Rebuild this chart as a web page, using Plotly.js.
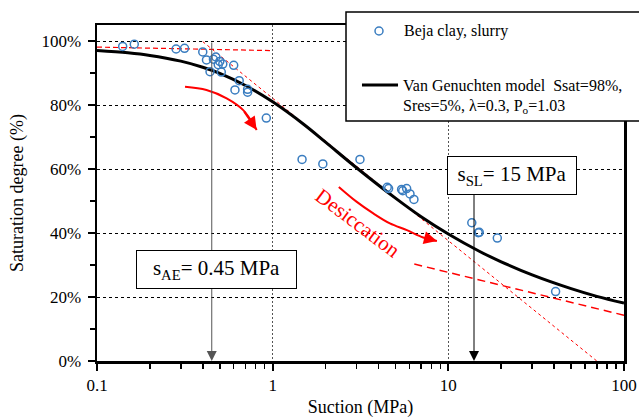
<!DOCTYPE html>
<html>
<head>
<meta charset="utf-8">
<script src="https://cdn.plot.ly/plotly-3.0.1.min.js"></script>
<style>html,body{margin:0;padding:0;background:#fff;}#chart{width:639px;height:418px;}</style>
</head>
<body>
<div id="chart"></div>
<script>
// Measured data: Beja clay, slurry
const suction = [0.14, 0.163, 0.282, 0.315, 0.40, 0.42, 0.46, 0.475, 0.49, 0.50, 0.52, 0.44, 0.51, 0.60, 0.645, 0.61, 0.72, 0.72, 0.92, 1.47, 1.93, 3.14, 4.49, 4.57, 5.42, 5.5, 5.79, 6.05, 6.37, 13.6, 14.8, 15.0, 19.0, 40.8];
const saturation = [98.3, 99.0, 97.5, 97.7, 96.6, 94.1, 94.3, 95.0, 92.6, 93.6, 92.8, 90.4, 90.3, 92.4, 87.6, 84.7, 84.9, 84.0, 75.9, 63.0, 61.6, 63.0, 54.3, 53.9, 53.6, 53.2, 53.9, 52.2, 50.5, 43.2, 40.1, 40.2, 38.4, 21.7];

// Van Genuchten model curve
const modelSuction = [0.1, 0.15, 0.2, 0.3, 0.4, 0.5, 0.7, 1, 1.5, 2, 3, 5, 7, 10, 15, 20, 30, 50, 70, 100];
const modelSat = [97.0, 96.3, 95.5, 93.7, 91.8, 89.9, 86.1, 81.0, 74.0, 68.4, 60.4, 50.9, 45.1, 39.7, 34.3, 31.0, 26.9, 22.6, 20.2, 18.1];

// Construction lines
const upperLineX = [0.1, 1];
const upperLineY = [98.1, 97.0];
const tangentX = [0.40, 70];
const tangentY = [99.8, 0];
const lowerLineX = [6.4, 100];
const lowerLineY = [30.3, 14.3];

// Red curved arrows
const arrow1X = [0.317, 0.42, 0.547, 0.68, 0.811];
const arrow1Y = [85.7, 84.7, 82.1, 78.4, 72.2];
const arrow2X = [2.38, 3.0, 3.72, 4.65, 5.81, 7.19, 8.61];
const arrow2Y = [54.4, 49.8, 46.2, 43.0, 40.9, 38.6, 37.5];

// Key suctions
const sAE = 0.45;
const sSL = 14;

// Ticks
const xTickVals = [0.1, 1, 10, 100];
const xTickText = ['0.1', '1', '10', '100'];
const xMinorVals = [0.2,0.3,0.4,0.5,0.6,0.7,0.8,0.9,2,3,4,5,6,7,8,9,20,30,40,50,60,70,80,90];
const yTickVals = [0, 20, 40, 60, 80, 100];
const yTickText = ['0%', '20%', '40%', '60%', '80%', '100%'];
const yMinorVals = [10, 30, 50, 70, 90];

const FONT = 'Liberation Serif';
const RED = '#ff0000';
const BLUE = '#3a7dc0';

const traces = [
  {x: upperLineX, y: upperLineY, mode: 'lines', line: {color: RED, width: 1.2, dash: '5px,3px'}, showlegend: false, hoverinfo: 'skip'},
  {x: tangentX, y: tangentY, mode: 'lines', line: {color: RED, width: 1, dash: 'dot'}, showlegend: false, hoverinfo: 'skip'},
  {x: lowerLineX, y: lowerLineY, mode: 'lines', line: {color: RED, width: 1.5, dash: '8px,5px'}, showlegend: false, hoverinfo: 'skip'},
  {x: modelSuction, y: modelSat, mode: 'lines', line: {color: '#000', width: 3, shape: 'spline', smoothing: 1}, showlegend: false},
  {x: suction, y: saturation, mode: 'markers', marker: {symbol: 'circle-open', size: 8, color: BLUE, line: {width: 1.5, color: BLUE}}, showlegend: false},
  {x: arrow1X, y: arrow1Y, mode: 'lines', line: {color: RED, width: 2, shape: 'spline'}, showlegend: false, hoverinfo: 'skip'},
  {x: arrow2X, y: arrow2Y, mode: 'lines', line: {color: RED, width: 2, shape: 'spline'}, showlegend: false, hoverinfo: 'skip'}
];

const lg = Math.log10;
const n1 = arrow1X.length, n2 = arrow2X.length;

const annotations = [
  // vertical arrows
  {x: lg(sAE), y: 0, ax: lg(sAE), ay: 100, xref: 'x', yref: 'y', axref: 'x', ayref: 'y', text: '', showarrow: true, arrowhead: 2, arrowsize: 2, arrowwidth: 1, arrowcolor: '#555', standoff: 0},
  {x: lg(sSL), y: 0, ax: lg(sSL), ay: 55, xref: 'x', yref: 'y', axref: 'x', ayref: 'y', text: '', showarrow: true, arrowhead: 2, arrowsize: 2, arrowwidth: 1, arrowcolor: '#000', standoff: 0},
  // red arrow heads
  {x: lg(arrow1X[n1-1]), y: arrow1Y[n1-1], ax: lg(arrow1X[n1-2]), ay: arrow1Y[n1-2], xref: 'x', yref: 'y', axref: 'x', ayref: 'y', text: '', showarrow: true, arrowhead: 2, arrowsize: 1.3, arrowwidth: 2, arrowcolor: RED, standoff: 0},
  {x: lg(arrow2X[n2-1]), y: arrow2Y[n2-1], ax: lg(arrow2X[n2-2]), ay: arrow2Y[n2-2], xref: 'x', yref: 'y', axref: 'x', ayref: 'y', text: '', showarrow: true, arrowhead: 2, arrowsize: 1.3, arrowwidth: 2, arrowcolor: RED, standoff: 0},
  // Desiccation label
  {x: lg(3.05), y: 43.1, xref: 'x', yref: 'y', xanchor: 'center', yanchor: 'middle', text: 'Desiccation', showarrow: false, textangle: 37, font: {family: FONT, size: 21, color: RED}},
  // boxes
  {x: 0.2268, y: 0.2723, xref: 'paper', yref: 'paper', xanchor: 'center', yanchor: 'middle', text: 's<sub>AE</sub>= 0.45 MPa', showarrow: false, font: {family: FONT, size: 21, color: '#000'}, bgcolor: '#fff', bordercolor: '#000', borderwidth: 1, width: 157, height: 35},
  {x: 0.7875, y: 0.5521, xref: 'paper', yref: 'paper', xanchor: 'center', yanchor: 'middle', text: 's<sub>SL</sub>= 15 MPa', showarrow: false, font: {family: FONT, size: 21, color: '#000'}, bgcolor: '#fff', bordercolor: '#000', borderwidth: 1, width: 126, height: 35},
  // legend texts
  {x: 0.5787, y: 0.9821, xref: 'paper', yref: 'paper', xanchor: 'left', yanchor: 'middle', text: 'Beja clay, slurry', showarrow: false, font: {family: FONT, size: 16, color: '#000'}},
  {x: 0.5763, y: 0.8214, xref: 'paper', yref: 'paper', xanchor: 'left', yanchor: 'middle', text: 'Van Genuchten model\u00a0\u00a0Ssat=98%,', showarrow: false, font: {family: FONT, size: 16, color: '#000'}},
  {x: 0.5763, y: 0.7589, xref: 'paper', yref: 'paper', xanchor: 'left', yanchor: 'middle', text: 'Sres=5%, λ=0.3, P<sub>o</sub>=1.03', showarrow: false, font: {family: FONT, size: 16, color: '#000'}}
];

const shapes = [
  {type: 'rect', xref: 'paper', yref: 'paper', x0: 0.4725, x1: 1.06, y0: 0.7143, y1: 1.0387, fillcolor: '#fff', line: {color: '#000', width: 1.5}, layer: 'above'},
  {type: 'circle', xref: 'paper', yref: 'paper', xsizemode: 'pixel', ysizemode: 'pixel', xanchor: 0.5351, yanchor: 0.9821, x0: -4, x1: 4, y0: -4, y1: 4, line: {color: BLUE, width: 1.5}, fillcolor: 'rgba(0,0,0,0)', layer: 'above'},
  {type: 'line', xref: 'paper', yref: 'paper', x0: 0.5028, x1: 0.5712, y0: 0.8214, y1: 0.8214, line: {color: '#000', width: 3}, layer: 'above'}
];

const layout = {
  width: 639, height: 418,
  margin: {l: 97, r: 15, t: 25, b: 57},
  paper_bgcolor: '#fff', plot_bgcolor: '#fff',
  font: {family: FONT, size: 16, color: '#000'},
  showlegend: false,
  xaxis: {
    type: 'log', range: [-1, 2],
    tickmode: 'array', tickvals: xTickVals, ticktext: xTickText,
    ticks: 'outside', ticklen: 7, tickwidth: 2, tickcolor: '#000',
    showline: true, linecolor: '#000', linewidth: 2.5, mirror: true,
    showgrid: true, gridcolor: '#555', griddash: '2px,2px', gridwidth: 1,
    zeroline: false,
    minor: {tickvals: xMinorVals, ticks: 'outside', ticklen: 5, tickwidth: 1.5, tickcolor: '#000', showgrid: false},
    tickfont: {family: FONT, size: 17},
    title: {text: 'Suction (MPa)', font: {family: FONT, size: 18}, standoff: 8}
  },
  yaxis: {
    range: [0, 105],
    tickmode: 'array', tickvals: yTickVals, ticktext: yTickText,
    ticks: 'outside', ticklen: 7, tickwidth: 2, tickcolor: '#000',
    showline: true, linecolor: '#000', linewidth: 2.5, mirror: true,
    showgrid: true, gridcolor: '#000', griddash: '3px,3px', gridwidth: 1,
    zeroline: false,
    minor: {tickvals: yMinorVals, ticks: 'outside', ticklen: 5, tickwidth: 1.5, tickcolor: '#000', showgrid: false},
    tickfont: {family: FONT, size: 17},
    ticklabelstandoff: 3,
    title: {text: 'Saturation degree (%)', font: {family: FONT, size: 18}, standoff: 13}
  },
  annotations: annotations,
  shapes: shapes
};

Plotly.newPlot('chart', traces, layout, {staticPlot: true, displayModeBar: false});
</script>
</body>
</html>
